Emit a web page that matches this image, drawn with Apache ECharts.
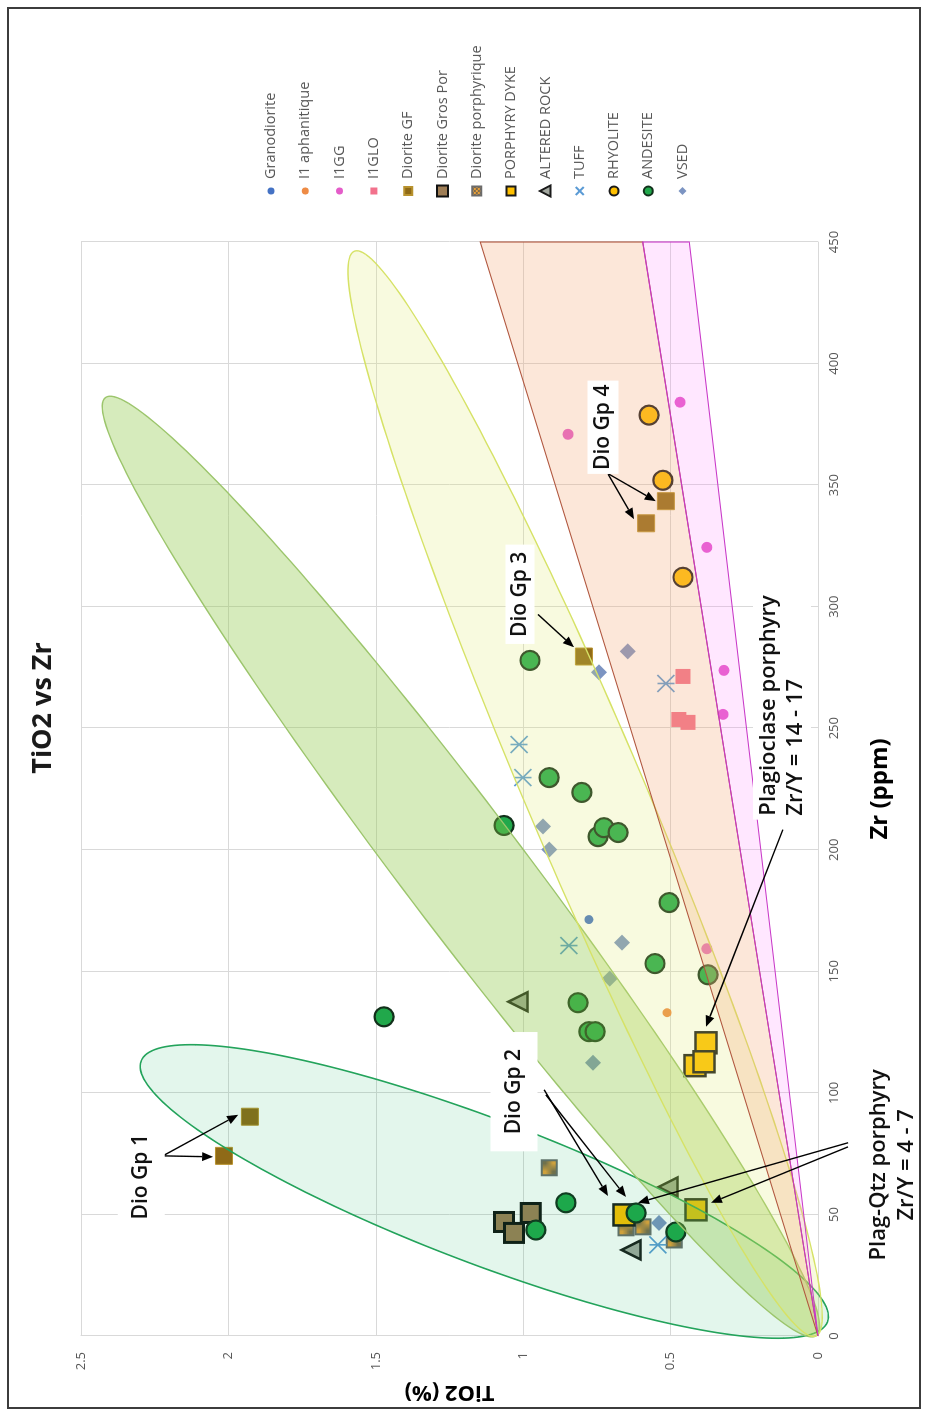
<!DOCTYPE html>
<html>
<head>
<meta charset="utf-8">
<title>TiO2 vs Zr</title>
<script src="https://cdn.jsdelivr.net/npm/echarts@6/dist/echarts.min.js"></script>
<style>
  html, body { margin: 0; padding: 0; background: #fff; }
  #page { position: relative; width: 930px; height: 1416px; overflow: hidden; background: #fff; }
  /* the plot is laid out landscape and turned a quarter turn anticlockwise */
  #chart { position: absolute; left: 0; top: 0; width: 1416px; height: 930px;
           transform-origin: 0 0; transform: translateY(1416px) rotate(-90deg); }
  #frame { position: absolute; left: 7px; top: 7px; width: 914px; height: 1402px;
           border: 2px solid #3c3c3c; box-sizing: border-box; pointer-events: none; }
</style>
</head>
<body>
<div id="page"><div id="chart"></div><div id="frame"></div></div>
<script>
// ---- rock groups (legend order) ----
const categories = ['Granodiorite', 'I1 aphanitique', 'I1GG', 'I1GLO', 'Diorite GF',
  'Diorite Gros Por', 'Diorite porphyrique', 'PORPHYRY DYKE', 'ALTERED ROCK', 'TUFF',
  'RHYOLITE', 'ANDESITE', 'VSED'];

// ---- samples: [Zr (ppm), TiO2 (%)] ----
const granodiorite = [[171.3, 0.777]];
const i1Aphanitique = [[133.0, 0.512]];
const i1gg = [[273.8, 0.319], [255.7, 0.322], [384.1, 0.468], [370.9, 0.848], [324.4, 0.377], [159.3, 0.377]];
const i1glo = [[271.3, 0.458], [253.6, 0.472], [252.4, 0.441]];
const dioriteGF = [[90.2, 1.927], [74.1, 2.015], [279.5, 0.794], [343.4, 0.516], [334.3, 0.583]];
const dioriteGrosPor = [[46.9, 1.065], [42.4, 1.031], [50.6, 0.974]];
const dioritePorphyrique = [[69.2, 0.912], [44.5, 0.651], [44.9, 0.594], [39.5, 0.488]];
const porphyryDyke = [[49.8, 0.658], [51.9, 0.414], [120.6, 0.380], [111.2, 0.417], [112.8, 0.387]];
const alteredRock = [[35.4, 0.634], [61.3, 0.509], [137.5, 1.018]];
const tuff = [[160.6, 0.845], [243.3, 1.014], [229.7, 1.001], [268.4, 0.516], [37.5, 0.543]];
const rhyolite = [[378.8, 0.573], [352.0, 0.526], [312.1, 0.458]];
const andesite = [[131.3, 1.472], [210.0, 1.065], [205.4, 0.746], [209.1, 0.726], [207.1, 0.678],
  [178.3, 0.505], [153.2, 0.553], [148.6, 0.373], [137.1, 0.814], [125.2, 0.777], [125.2, 0.756],
  [277.9, 0.977], [229.7, 0.912], [223.6, 0.801], [54.8, 0.855], [43.6, 0.957], [50.6, 0.617], [42.8, 0.482]];
const vsed = [[209.6, 0.933], [200.1, 0.912], [161.8, 0.665], [147.0, 0.706], [112.4, 0.763],
  [281.6, 0.645], [273.0, 0.743], [46.5, 0.539]];

const pointSets = [granodiorite, i1Aphanitique, i1gg, i1glo, dioriteGF, dioriteGrosPor,
  dioritePorphyrique, porphyryDyke, alteredRock, tuff, rhyolite, andesite, vsed];

// ---- axis ticks ----
const zrTicks = { min: 0, max: 450, step: 50 };
const tiTicks = { min: 0, max: 2.5, step: 0.5 };

// ---- discrimination fields ----
// ellipses: centre [Zr, TiO2] and two conjugate semi-axis vectors in data units
const ellipseCentres = [[59.45, 1.132], [193.1, 1.211], [223.1, 0.790]];
const ellipseAxisA = [[-53.65, -1.164], [-192.9, -1.206], [-223.1, -0.783]];
const ellipseAxisB = [[-27.7, 0.0867], [-14.9, 0.162], [-9.5, 0.184]];
// Zr/Y wedges from the origin
const wedgeOrange = [[0, 0], [450, 1.1455], [450, 0.5946]];
const wedgePink = [[0, 0], [450, 0.5946], [450, 0.4366]];

// ---- call-outs ----
const noteTexts = ['Dio Gp 1', 'Dio Gp 2', 'Dio Gp 3', 'Dio Gp 4',
  'Plagioclase porphyry\nZr/Y = 14 - 17', 'Plag-Qtz porphyry\nZr/Y = 4 - 7'];
const noteAnchors = [[65.5, 2.296], [100.5, 1.031], [305.1, 1.011], [373.8, 0.729], [212.4, 0.122], [70.4, -0.255]];
const noteArrows = [
  [[[74.1, 2.222], [91.0, 1.967]], [[74.1, 2.222], [73.7, 2.052]]],
  [[[101.3, 0.929], [57.6, 0.712]], [[99.2, 0.923], [57.2, 0.651]]],
  [[[296.8, 0.950], [283.3, 0.828]]],
  [[[354.5, 0.712], [336.0, 0.624]], [[354.5, 0.709], [343.4, 0.550]]],
  [[[208.3, 0.119], [127.2, 0.380]]],
  [[[79.5, -0.102], [54.8, 0.611]], [[77.8, -0.102], [54.8, 0.363]]]
];

// ---------------------------------------------------------------------------
const FONT = '"Open Sans", "Noto Sans", sans-serif';

// speckled fill for the porphyritic diorite markers
const speckle = document.createElement('canvas');
speckle.width = 4; speckle.height = 4;
(function () {
  const g = speckle.getContext('2d');
  g.fillStyle = '#7d6a4c'; g.fillRect(0, 0, 4, 4);
  g.fillStyle = '#e8a03a'; g.fillRect(0, 0, 2, 2); g.fillRect(2, 2, 2, 2);
})();

const BOX = 'M0,0M14,14';
const markerStyles = [
  { symbol: 'circle', size: 9, item: { color: '#4472C4' },
    icon: 'path://' + BOX + 'M3.5,7A3.5,3.5,0,1,1,10.5,7A3.5,3.5,0,1,1,3.5,7Z' },
  { symbol: 'circle', size: 9, item: { color: '#EE8B45' },
    icon: 'path://' + BOX + 'M3.5,7A3.5,3.5,0,1,1,10.5,7A3.5,3.5,0,1,1,3.5,7Z' },
  { symbol: 'circle', size: 11, item: { color: '#E45CC9' },
    icon: 'path://' + BOX + 'M3.5,7A3.5,3.5,0,1,1,10.5,7A3.5,3.5,0,1,1,3.5,7Z' },
  { symbol: 'rect', size: 15, item: { color: '#F2718C' },
    icon: 'path://' + BOX + 'M3.5,3.5L10.5,3.5L10.5,10.5L3.5,10.5Z' },
  { symbol: 'rect', size: 17, item: { color: '#8F6A17', borderColor: '#B8922E', borderWidth: 1 },
    icon: 'path://' + BOX + 'M3,3L11,3L11,11L3,11Z' },
  { symbol: 'rect', size: 19, item: { color: '#9E7D55', borderColor: '#111', borderWidth: 3 },
    icon: 'path://' + BOX + 'M1.5,1.5L12.5,1.5L12.5,12.5L1.5,12.5Z' },
  { symbol: 'rect', size: 15, item: { color: { image: speckle, repeat: 'repeat' }, borderColor: '#6b6b6b', borderWidth: 2 },
    icon: 'path://' + BOX + 'M2.5,2.5L11.5,2.5L11.5,11.5L2.5,11.5Z' },
  { symbol: 'rect', size: 21, item: { color: '#FFC000', borderColor: '#1a1a1a', borderWidth: 2.5 },
    icon: 'path://' + BOX + 'M2.5,2.5L11.5,2.5L11.5,11.5L2.5,11.5Z' },
  { symbol: 'triangle', size: 19, item: { color: '#A3A8A0', borderColor: '#1a1a1a', borderWidth: 2.5 },
    icon: 'path://' + BOX + 'M7,1.5L12.5,12L1.5,12Z' },
  { symbol: 'path://M0,0L10,10M10,0L0,10M5,0L5,10', size: 17, item: { color: '#5B9BD5', borderColor: '#5B9BD5', borderWidth: 1.6 },
    icon: 'path://' + BOX + 'M3,3L11,11M11,3L3,11' },
  { symbol: 'circle', size: 19, item: { color: '#FFC000', borderColor: '#1a1a1a', borderWidth: 2.2 },
    icon: 'path://' + BOX + 'M2.5,7A4.5,4.5,0,1,1,11.5,7A4.5,4.5,0,1,1,2.5,7Z' },
  { symbol: 'circle', size: 19, item: { color: '#21A84B', borderColor: '#12301b', borderWidth: 2.2 },
    icon: 'path://' + BOX + 'M2.5,7A4.5,4.5,0,1,1,11.5,7A4.5,4.5,0,1,1,2.5,7Z' },
  { symbol: 'diamond', size: 16, item: { color: '#7C94C2' },
    icon: 'path://' + BOX + 'M7,3L11,7L7,11L3,7Z' }
];

const ellipseStyles = [
  { fill: 'rgba(0,176,80,0.11)', stroke: '#23A35B', lineWidth: 1.6 },
  { fill: 'rgba(140,200,70,0.36)', stroke: '#9CC56C', lineWidth: 1.4 },
  { fill: 'rgba(222,232,110,0.22)', stroke: '#D6E266', lineWidth: 1.4 }
];
const wedgeStyles = [
  { fill: 'rgba(244,170,120,0.28)', stroke: '#B0563E', lineWidth: 1.1 },
  { fill: 'rgba(255,120,255,0.18)', stroke: '#C838C8', lineWidth: 1.1 }
];
const noteStyles = [
  { font: '600 21px ' + FONT, padding: [13, 16], align: 'center' },
  { font: '600 21px ' + FONT, padding: [13, 17], align: 'center' },
  { font: '600 21px ' + FONT, padding: [4, 7], align: 'center' },
  { font: '600 21px ' + FONT, padding: [5, 4], align: 'center' },
  { font: '600 22px ' + FONT, padding: [2, 4], align: 'left', lineHeight: 27 },
  { font: '600 22px ' + FONT, padding: [2, 4], align: 'center', lineHeight: 28 }
];

function ellipseOutline(i, api) {
  const c = ellipseCentres[i], a = ellipseAxisA[i], b = ellipseAxisB[i];
  const pts = [];
  const n = 200;
  for (let k = 0; k < n; k++) {
    const t = 2 * Math.PI * k / n;
    const ct = Math.cos(t), st = Math.sin(t);
    pts.push(api.coord([c[0] + a[0] * ct + b[0] * st, c[1] + a[1] * ct + b[1] * st]));
  }
  return pts;
}

const fieldSeries = {
  type: 'custom',
  name: 'fields',
  coordinateSystem: 'cartesian2d',
  z: 4,
  silent: true,
  clip: false,
  data: [[0, 0]],
  renderItem: function (params, api) {
    const children = [];
    ellipseCentres.forEach(function (_, i) {
      children.push({ type: 'polygon', shape: { points: ellipseOutline(i, api) }, style: ellipseStyles[i] });
    });
    [wedgeOrange, wedgePink].forEach(function (w, i) {
      children.push({ type: 'polygon', shape: { points: w.map(function (p) { return api.coord(p); }) }, style: wedgeStyles[i] });
    });
    return { type: 'group', children: children };
  }
};

const noteSeries = {
  type: 'custom',
  name: 'notes',
  coordinateSystem: 'cartesian2d',
  z: 10,
  silent: true,
  clip: false,
  data: noteAnchors,
  renderItem: function (params, api) {
    const i = params.dataIndex;
    const children = [];
    noteArrows[i].forEach(function (ar) {
      const p0 = api.coord(ar[0]), p1 = api.coord(ar[1]);
      const dx = p1[0] - p0[0], dy = p1[1] - p0[1];
      const len = Math.sqrt(dx * dx + dy * dy);
      const ux = dx / len, uy = dy / len;
      const hl = 11, hw = 4.5;
      const bx = p1[0] - ux * hl, by = p1[1] - uy * hl;
      children.push({ type: 'line', shape: { x1: p0[0], y1: p0[1], x2: bx, y2: by },
        style: { stroke: '#000', lineWidth: 1.4 } });
      children.push({ type: 'polygon', shape: { points: [p1, [bx - uy * hw, by + ux * hw], [bx + uy * hw, by - ux * hw]] },
        style: { fill: '#000' } });
    });
    const c = api.coord(noteAnchors[i]);
    const st = noteStyles[i];
    children.push({ type: 'text', x: c[0], y: c[1], style: {
      text: noteTexts[i], font: st.font, fill: '#111', align: st.align, verticalAlign: 'middle',
      backgroundColor: '#fff', padding: st.padding, lineHeight: st.lineHeight } });
    return { type: 'group', children: children };
  }
};

const scatterSeries = categories.map(function (name, i) {
  const m = markerStyles[i];
  return { type: 'scatter', name: name, data: pointSets[i], symbol: m.symbol, symbolSize: m.size,
    itemStyle: Object.assign({ opacity: 1 }, m.item), z: 2 };
});

const chart = echarts.init(document.getElementById('chart'), null, { renderer: 'canvas' });
chart.setOption({
  animation: false,
  backgroundColor: '#fff',
  title: { text: 'TiO2 vs Zr', left: 'center', top: 25,
    textStyle: { fontFamily: FONT, fontSize: 27, fontWeight: 'bold', color: '#1a1a1a' } },
  legend: {
    orient: 'vertical', left: 1212, top: 257, itemWidth: 14, itemHeight: 14, itemGap: 16.3,
    textStyle: { fontFamily: FONT, fontSize: 14.5, lineHeight: 18, color: '#595959' },
    data: categories.map(function (n, i) { return { name: n, icon: markerStyles[i].icon }; })
  },
  grid: { left: 80, right: 242, top: 81, bottom: 112, containLabel: false },
  xAxis: {
    type: 'value', min: zrTicks.min, max: zrTicks.max, interval: zrTicks.step,
    name: 'Zr (ppm)', nameLocation: 'middle', nameGap: 50,
    nameTextStyle: { fontFamily: FONT, fontSize: 24, fontWeight: 'bold', color: '#000' },
    axisLine: { lineStyle: { color: '#D9D9D9', width: 1 } },
    axisTick: { show: false },
    axisLabel: { color: '#595959', fontSize: 13, fontFamily: FONT, margin: 10 },
    splitLine: { lineStyle: { color: '#D9D9D9', width: 1 } }
  },
  yAxis: {
    type: 'value', min: tiTicks.min, max: tiTicks.max, interval: tiTicks.step,
    name: 'TiO2 (%)', nameLocation: 'middle', nameGap: 44, nameRotate: 90,
    nameTextStyle: { fontFamily: FONT, fontSize: 22, fontWeight: 'bold', color: '#000' },
    axisLine: { show: true, lineStyle: { color: '#D9D9D9', width: 1 } },
    axisTick: { show: false },
    axisLabel: { color: '#595959', fontSize: 13, fontFamily: FONT, margin: 16 },
    splitLine: { lineStyle: { color: '#D9D9D9', width: 1 } }
  },
  series: scatterSeries.concat([fieldSeries, noteSeries])
});
</script>
</body>
</html>
